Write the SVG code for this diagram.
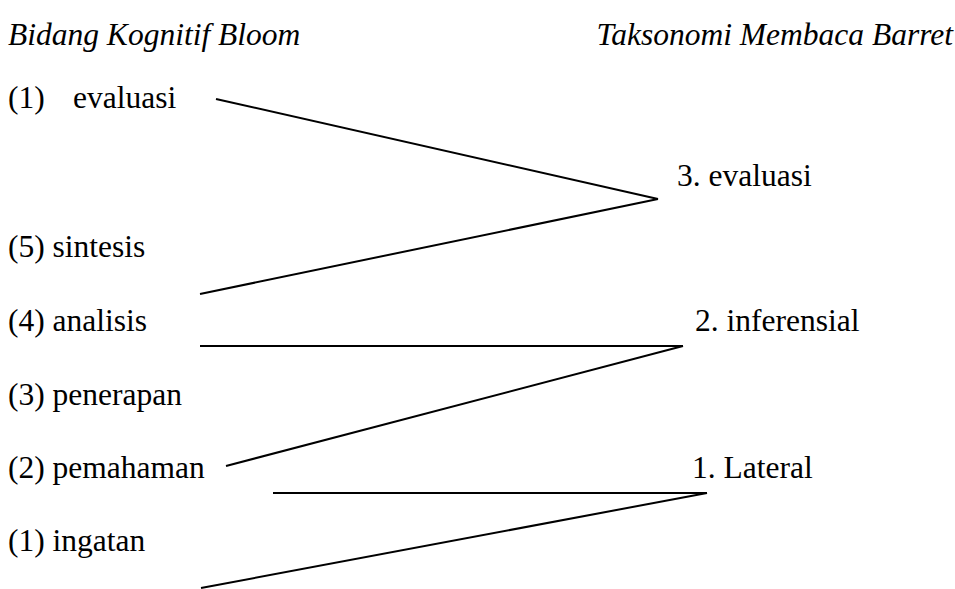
<svg xmlns="http://www.w3.org/2000/svg" width="955" height="589" viewBox="0 0 955 589">
<style>
text{font-family:"Liberation Serif","Times New Roman",serif;font-size:31.5px;fill:#000}
.t{font-style:italic}
.c line{stroke:#000;stroke-width:2;fill:none}
</style>
<rect width="955" height="589" fill="#fff"/>
<g id="title-left"><text class="t" x="8" y="45">Bidang Kognitif Bloom</text></g>
<g id="title-right"><text class="t" x="953" y="45" text-anchor="end">Taksonomi Membaca Barret</text></g>
<g id="b6"><text x="8" y="108">(1)<tspan x="73">evaluasi</tspan></text></g>
<g id="b5"><text x="8" y="257">(5) sintesis</text></g>
<g id="b4"><text x="8" y="331">(4) analisis</text></g>
<g id="b3"><text x="8" y="405">(3) penerapan</text></g>
<g id="b2"><text x="8" y="478">(2) pemahaman</text></g>
<g id="b1"><text x="8" y="551">(1) ingatan</text></g>
<g id="r3"><text x="677" y="186">3. evaluasi</text></g>
<g id="r2"><text x="695" y="331">2. inferensial</text></g>
<g id="r1"><text x="692" y="478">1. Lateral</text></g>
<g class="c" id="connectors">
<line x1="216" y1="99" x2="658" y2="199"/>
<line x1="200" y1="294" x2="658" y2="199"/>
<line x1="200" y1="346" x2="683" y2="346"/>
<line x1="226" y1="466" x2="683" y2="346"/>
<line x1="273" y1="493" x2="707" y2="493"/>
<line x1="201" y1="588" x2="707" y2="493"/>
</g>
</svg>
